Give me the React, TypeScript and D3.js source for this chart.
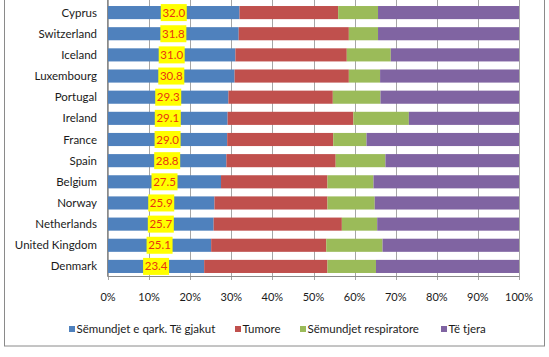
import React from "react";
import * as d3 from "d3";

const countries = ["Cyprus","Switzerland","Iceland","Luxembourg","Portugal","Ireland","France","Spain","Belgium","Norway","Netherlands","United Kingdom","Denmark"];
const circulatory = [32.0,31.8,31.0,30.8,29.3,29.1,29.0,28.8,27.5,25.9,25.7,25.1,23.4];
const tumours = [24.0,26.8,27.1,27.8,25.4,30.6,25.8,26.6,25.9,27.5,31.2,28.0,30.0];
const respiratory = [9.7,7.1,10.7,7.6,11.6,13.5,8.1,12.1,11.2,11.5,8.6,13.7,11.8];
const seriesNames = ["Sëmundjet e qark. Të gjakut","Tumore","Sëmundjet respiratore","Të tjera"];
const colors = ["#4F81BD","#C0504D","#9BBB59","#8064A2"];
const ticks = [0,10,20,30,40,50,60,70,80,90,100];

const W = 549, H = 357;
const FONT = "Lato, 'Open Sans', sans-serif";

export default function App() {
  const x = d3.scaleLinear().domain([0, 100]).range([108, 519]);
  const y = d3.scaleBand<string>().domain(countries).range([2, 277]).paddingInner(0.38).paddingOuter(0.19);
  const rows = countries.map((c, i) => {
    const others = 100 - circulatory[i] - tumours[i] - respiratory[i];
    return { c, vals: [circulatory[i], tumours[i], respiratory[i], others] };
  });
  const stack = d3.stack<any>().keys(["0","1","2","3"]).value((d, k) => d.vals[+k]);
  const stacked = stack(rows);
  const legendX = [69, 235, 300, 441];
  return (
    <svg width={W} height={H} style={{ position: "absolute", left: 0, top: 0, background: "#fff" }}>
      <rect x={4.5} y={-5} width={540} height={351} fill="#fff" stroke="#8a8a8a" strokeWidth={1} />
      {ticks.map(t => (
        <line key={"g"+t} x1={Math.round(x(t))+0.5} x2={Math.round(x(t))+0.5} y1={0} y2={280} stroke="#a6a6a6" strokeWidth={1} />
      ))}
      {stacked.map((s, si) => s.map((d, ri) => (
        <rect key={si+"-"+ri} x={x(d[0])} y={y(countries[ri])!} width={x(d[1]) - x(d[0])} height={y.bandwidth()} fill={colors[si]} />
      )))}
      <line x1={107.5} x2={107.5} y1={0} y2={276.5} stroke="#8a8a8a" />
      <line x1={107.5} x2={519.5} y1={276.5} y2={276.5} stroke="#8a8a8a" />
      {countries.map(c => (
        <text key={"l"+c} x={97} y={y(c)! + y.bandwidth()/2} dy="0.35em" textAnchor="end" fontFamily={FONT} fontSize={11.5} fill="#1a1a1a">{c}</text>
      ))}
      {rows.map((r, i) => {
        const cx = x(r.vals[0] / 2);
        const cy = y(r.c)! + y.bandwidth()/2;
        return (
          <g key={"v"+i}>
            <rect x={cx - 13} y={cy - 8.5} width={26} height={17} fill="#FFFF00" />
            <text x={cx} y={cy} dy="0.35em" textAnchor="middle" fontFamily={FONT} fontSize={11.5} fill="#E8350F">{r.vals[0].toFixed(1)}</text>
          </g>
        );
      })}
      {ticks.map(t => (
        <text key={"t"+t} x={x(t)} y={297} dy="0.35em" textAnchor="middle" fontFamily={FONT} fontSize={11} fill="#1a1a1a">{t + "%"}</text>
      ))}
      {seriesNames.map((n, i) => (
        <g key={"lg"+i}>
          <rect x={legendX[i]} y={326} width={6} height={6} fill={colors[i]} />
          <text x={legendX[i] + 7.5} y={329} dy="0.35em" fontFamily={FONT} fontSize={11.5} fill="#1a1a1a">{n}</text>
        </g>
      ))}
    </svg>
  );
}
